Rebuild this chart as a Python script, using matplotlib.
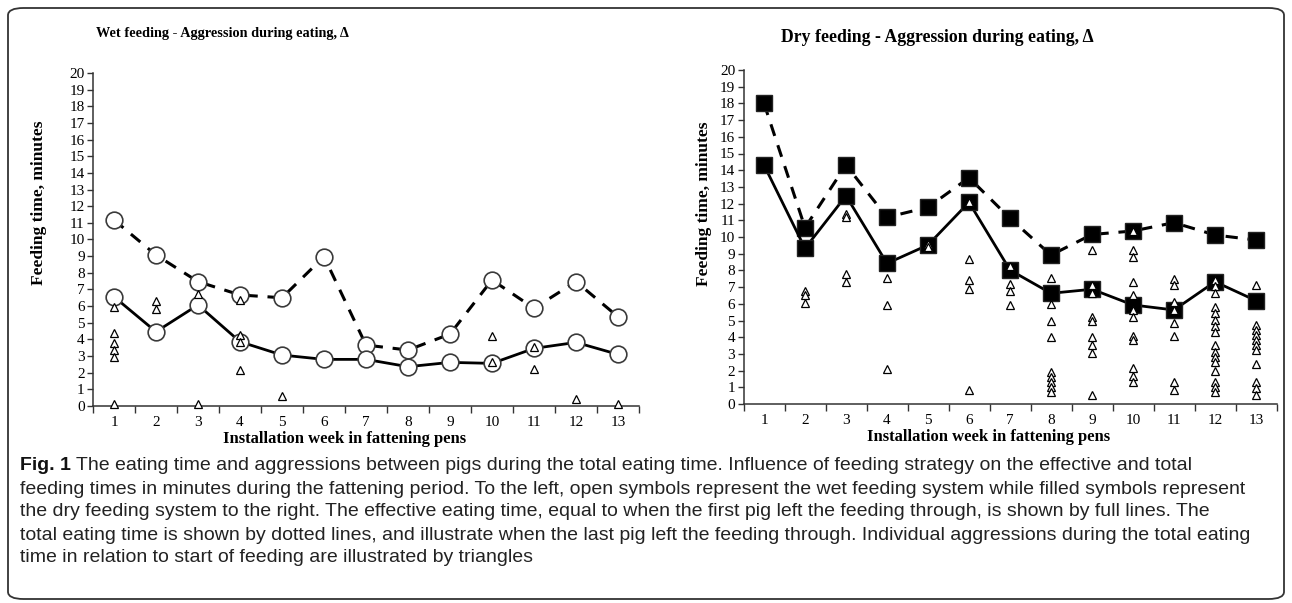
import matplotlib
matplotlib.use("Agg")
import matplotlib.pyplot as plt
from matplotlib.patches import FancyBboxPatch
from matplotlib.ticker import MultipleLocator, FixedLocator

# week numbers on the x axis
weeks = list(range(1, 14))

# wet feeding (open circles)
wet_total = [11.17, 9.07, 7.47, 6.67, 6.5, 8.97, 3.66, 3.36, 4.32, 7.57, 5.87, 7.47, 5.36]
wet_effective = [6.56, 4.46, 6.07, 3.86, 3.06, 2.8, 2.8, 2.36, 2.62, 2.56, 3.46, 3.82, 3.1]
wet_aggressions = [
    [5.93, 4.37, 3.77, 3.36, 2.96, 0.15],
    [6.33, 5.85],
    [6.7, 0.15],
    [6.37, 4.26, 3.86, 2.16],
    [0.62],
    [], [], [], [],
    [4.22, 2.62],
    [3.52, 2.2],
    [0.4],
    [0.15],
]

# dry feeding (filled squares)
dry_total = [18.0, 10.56, 14.31, 11.18, 11.78, 13.55, 11.12, 8.92, 10.15, 10.36, 10.86, 10.12, 9.82]
dry_effective = [14.31, 9.32, 12.47, 8.42, 9.52, 12.08, 8.02, 6.63, 6.87, 5.93, 5.63, 7.32, 6.19]
dry_aggressions = [
    [],
    [6.77, 6.53, 6.07],
    [11.4, 11.2, 7.77, 7.33],
    [7.57, 5.93, 2.08],
    [9.6, 9.4],
    [12.1, 8.66, 7.43, 6.89, 0.84],
    [8.26, 7.19, 6.79, 5.93],
    [7.53, 5.99, 4.97, 4.03, 1.93, 1.63, 1.34, 1.04, 0.74],
    [9.22, 7.13, 6.63, 5.19, 4.99, 4.03, 3.53, 3.04, 0.54],
    [10.38, 9.22, 8.82, 7.32, 6.53, 5.63, 5.19, 4.07, 3.83, 2.14, 1.68, 1.34],
    [7.47, 7.13, 6.13, 5.63, 4.87, 4.07, 1.34, 0.84],
    [7.43, 7.07, 6.63, 5.83, 5.43, 5.03, 4.67, 4.33, 3.53, 3.13, 2.83, 2.53, 2.0, 1.34, 1.04, 0.74],
    [7.13, 4.73, 4.43, 4.13, 3.83, 3.53, 3.23, 2.4, 1.34, 0.94, 0.54],
]

y_ticks = list(range(0, 21))

caption_lines = [
    "The eating time and aggressions between pigs during the total eating time. Influence of feeding strategy on the effective and total",
    "feeding times in minutes during the fattening period. To the left, open symbols represent the wet feeding system while filled symbols represent",
    "the dry feeding system to the right. The effective eating time, equal to when the first pig left the feeding through, is shown by full lines. The",
    "total eating time is shown by dotted lines, and illustrate when the last pig left the feeding through. Individual aggressions during the total eating",
    "time in relation to start of feeding are illustrated by triangles",
]

SERIF = "Liberation Serif"
W, H = 1292, 603
fig = plt.figure(figsize=(W / 100, H / 100), dpi=100)


def style_axis(ax):
    ax.set_xlim(0.5, 13.5)
    ax.set_ylim(0, 20)
    for side in ("top", "right"):
        ax.spines[side].set_visible(False)
    for side in ("left", "bottom"):
        ax.spines[side].set_linewidth(1.1)
        ax.spines[side].set_color("#333333")
    ax.xaxis.set_major_locator(FixedLocator(weeks))
    ax.xaxis.set_minor_locator(MultipleLocator(1, offset=0.5))
    ax.yaxis.set_major_locator(FixedLocator(y_ticks))
    ax.tick_params(axis="x", which="major", length=0, pad=7)
    ax.tick_params(axis="x", which="minor", length=5, width=1, color="#333333", direction="out")
    ax.tick_params(axis="y", length=4, width=1, color="#333333", direction="out", pad=2)
    for lab in ax.get_xticklabels() + ax.get_yticklabels():
        lab.set_fontfamily(SERIF)
        lab.set_fontsize(11)


def draw_aggressions(ax, groups):
    xs, ys = [], []
    for wk, vals in zip(weeks, groups):
        xs += [wk] * len(vals)
        ys += vals
    ax.plot(xs, ys, ls="none", marker="^", ms=6, mfc="white", mec="black",
            mew=0.9, zorder=5, clip_on=False)


# left panel: wet feeding
ax1 = fig.add_axes([93 / W, 1 - 406 / H, 546 / W, 333 / H])
style_axis(ax1)
ax1.plot(weeks, wet_total, color="black", lw=2.2, dashes=(4, 3.2), marker="o", ms=12,
         mfc="white", mec="#3a3a3a", mew=1.2, zorder=3, clip_on=False)
ax1.plot(weeks, wet_effective, color="black", lw=2.0, marker="o", ms=12,
         mfc="white", mec="#3a3a3a", mew=1.2, zorder=4, clip_on=False)
draw_aggressions(ax1, wet_aggressions)
ax1.set_ylabel("Feeding time, minutes", fontfamily=SERIF, fontweight="bold", fontsize=12.5)
ax1.yaxis.set_label_coords(-0.085, 0.61)
ax1.set_xlabel("Installation week in fattening pens", fontfamily=SERIF, fontweight="bold", fontsize=12)
ax1.xaxis.set_label_coords(0.46, -0.075)

# right panel: dry feeding
ax2 = fig.add_axes([743.5 / W, 1 - 404 / H, 533 / W, 334 / H])
style_axis(ax2)
ax2.plot(weeks, dry_total, color="black", lw=2.2, dashes=(4, 3.2), marker="s", ms=12,
         mfc="black", mec="#222222", mew=1, zorder=3, clip_on=False)
ax2.plot(weeks, dry_effective, color="black", lw=2.0, marker="s", ms=12,
         mfc="black", mec="#222222", mew=1, zorder=4, clip_on=False)
draw_aggressions(ax2, dry_aggressions)
ax2.set_ylabel("Feeding time, minutes", fontfamily=SERIF, fontweight="bold", fontsize=12.5)
ax2.yaxis.set_label_coords(-0.06, 0.6)
ax2.set_xlabel("Installation week in fattening pens", fontfamily=SERIF, fontweight="bold", fontsize=12)
ax2.xaxis.set_label_coords(0.46, -0.075)

# titles
fig.text(222 / W, 1 - 33 / H, "Wet feeding - Aggression during eating, \u0394", ha="center", va="center",
         fontfamily=SERIF, fontweight="bold", fontsize=10.3)
fig.text(937 / W, 1 - 37 / H, "Dry feeding - Aggression during eating, \u0394", ha="center", va="center",
         fontfamily=SERIF, fontweight="bold", fontsize=12.8)

# caption
cap_font = ["Liberation Sans", "DejaVu Sans"]
cap_size = 14
x0, y0, step = 20 / W, 1 - 466 / H, 23 / H
fig_lbl = fig.text(x0, y0, "Fig. 1", ha="left", va="center", fontfamily=cap_font,
                   fontweight="bold", fontsize=cap_size, color="#111111")
fig.canvas.draw()
bb = fig_lbl.get_window_extent()
fig.text(bb.x1 / W + 5 / W, y0, caption_lines[0], ha="left", va="center",
         fontfamily=cap_font, fontsize=cap_size, color="#222222")
for i, line in enumerate(caption_lines[1:], start=1):
    fig.text(x0, y0 - i * step, line, ha="left", va="center",
             fontfamily=cap_font, fontsize=cap_size, color="#222222")

# rounded frame round the whole figure
frame = FancyBboxPatch((8 / W, 4 / H), 1276 / W, 591 / H, boxstyle="round,pad=0,rounding_size=0.012",
                       transform=fig.transFigure, fill=False, ec="#333333", lw=1.3)
fig.patches.append(frame)

fig.savefig("out.png", dpi=100)
